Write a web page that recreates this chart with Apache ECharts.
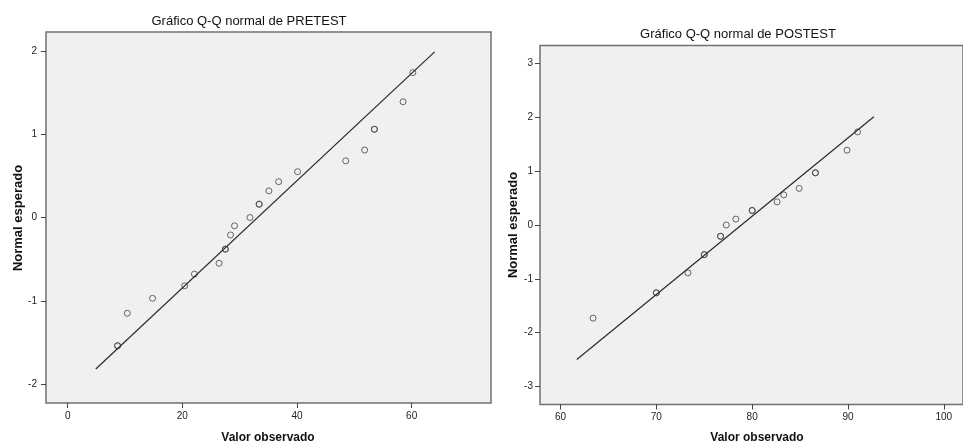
<!DOCTYPE html>
<html>
<head>
<meta charset="utf-8">
<script src="https://cdn.jsdelivr.net/npm/echarts@6/dist/echarts.min.js"></script>
<style>
html,body{margin:0;padding:0;background:#fff;}
#c{width:963px;height:444px;}
</style>
</head>
<body>
<div id="c"></div>
<script>
// ---- PRETEST data (observed value, expected normal, number of cases at that point)
const preX = [8.7, 10.4, 14.8, 20.4, 22.1, 26.4, 27.5, 28.4, 29.1, 31.8, 33.4, 35.1, 36.8, 40.1, 48.5, 51.8, 53.5, 58.5, 60.2];
const preY = [-1.54, -1.15, -0.97, -0.82, -0.68, -0.55, -0.38, -0.21, -0.10, 0.00, 0.16, 0.32, 0.43, 0.55, 0.68, 0.81, 1.06, 1.39, 1.74];
const preCases = [2, 1, 1, 1, 1, 1, 2, 1, 1, 1, 2, 1, 1, 1, 1, 1, 2, 1, 1];
const preLineX = [4.9, 64.0];
const preLineY = [-1.82, 1.99];

// ---- POSTEST data
const postX = [63.4, 70.0, 73.3, 75.0, 76.7, 77.3, 78.3, 80.0, 82.6, 83.3, 84.9, 86.6, 89.9, 91.0];
const postY = [-1.73, -1.26, -0.89, -0.55, -0.21, 0.00, 0.11, 0.27, 0.43, 0.56, 0.68, 0.97, 1.39, 1.73];
const postCases = [1, 2, 1, 2, 2, 1, 1, 2, 1, 1, 1, 2, 1, 1];
const postLineX = [61.7, 92.7];
const postLineY = [-2.50, 2.01];

// ---- tick labels
const preXTicks = [0, 20, 40, 60];
const preYTicks = [-2, -1, 0, 1, 2];
const postXTicks = [60, 70, 80, 90, 100];
const postYTicks = [-3, -2, -1, 0, 1, 2, 3];

// ---- texts
const preTitle = 'Gráfico Q-Q normal de PRETEST';
const postTitle = 'Gráfico Q-Q normal de POSTEST';
const xName = 'Valor observado';
const yName = 'Normal esperado';

function pts(xs, ys, cs) {
  const out = [];
  xs.forEach((x, i) => { for (let k = 0; k < cs[i]; k++) out.push([x, ys[i]]); });
  return out;
}
function linePts(xs, ys) { return xs.map((x, i) => [x, ys[i]]); }

const tickFont = "'Liberation Sans Narrow', 'Arial Narrow', 'Liberation Sans', sans-serif";
const mainFont = "'Liberation Sans', Arial, sans-serif";

function xAxisCfg(grid, min, max, ticks) {
  return {
    type: 'value', gridIndex: grid, min: min, max: max, position: 'bottom',
    axisLine: { show: false, onZero: false },
    splitLine: { show: false },
    axisTick: { show: true, inside: false, length: 5, customValues: ticks, lineStyle: { color: '#444', width: 1 } },
    axisLabel: { customValues: ticks, color: '#222', fontSize: 10, fontFamily: tickFont, margin: 8 }
  };
}
function yAxisCfg(grid, min, max, ticks, margin) {
  return {
    type: 'value', gridIndex: grid, min: min, max: max, position: 'left',
    axisLine: { show: false, onZero: false },
    splitLine: { show: false },
    axisTick: { show: true, inside: false, length: 5, customValues: ticks, lineStyle: { color: '#444', width: 1 } },
    axisLabel: { customValues: ticks, color: '#222', fontSize: 10, fontFamily: tickFont, margin: margin }
  };
}
function scatter(idx, data) {
  return {
    type: 'scatter', xAxisIndex: idx, yAxisIndex: idx, data: data,
    symbol: 'circle', symbolSize: 6, silent: true,
    itemStyle: { color: 'rgba(0,0,0,0)', borderColor: '#444', borderWidth: 1 }
  };
}
function fitLine(idx, data) {
  return {
    type: 'line', xAxisIndex: idx, yAxisIndex: idx, data: data,
    symbol: 'none', silent: true,
    lineStyle: { color: '#2a2a2a', width: 1.2 }
  };
}
function txt(x, y, text, font, rot) {
  return {
    type: 'text', x: x, y: y, rotation: rot || 0, silent: true,
    style: { text: text, font: font, fill: '#111', align: 'center', verticalAlign: 'middle' }
  };
}

const chart = echarts.init(document.getElementById('c'), null, { renderer: 'canvas' });
chart.setOption({
  animation: false,
  backgroundColor: '#ffffff',
  grid: [
    { left: 46, top: 32, width: 445, height: 371, show: true, backgroundColor: '#f0f0f0', borderColor: '#707070', borderWidth: 1.5 },
    { left: 540, top: 45.5, width: 433, height: 359, show: true, backgroundColor: '#f0f0f0', borderColor: '#707070', borderWidth: 1.5 }
  ],
  xAxis: [
    xAxisCfg(0, -3.785, 73.84, preXTicks),
    xAxisCfg(1, 57.86, 102.0, postXTicks)
  ],
  yAxis: [
    yAxisCfg(0, -2.228, 2.228, preYTicks, 9),
    yAxisCfg(1, -3.335, 3.335, postYTicks, 7)
  ],
  series: [
    fitLine(0, linePts(preLineX, preLineY)),
    scatter(0, pts(preX, preY, preCases)),
    fitLine(1, linePts(postLineX, postLineY)),
    scatter(1, pts(postX, postY, postCases))
  ],
  graphic: [
    txt(249, 21, preTitle, '13px ' + mainFont),
    txt(738, 34, postTitle, '13px ' + mainFont),
    txt(268, 438, xName, 'bold 12px ' + mainFont),
    txt(757, 438, xName, 'bold 12px ' + mainFont),
    txt(18, 218, yName, 'bold 13px ' + mainFont, Math.PI / 2),
    txt(513, 225, yName, 'bold 13px ' + mainFont, Math.PI / 2)
  ]
});
</script>
</body>
</html>
